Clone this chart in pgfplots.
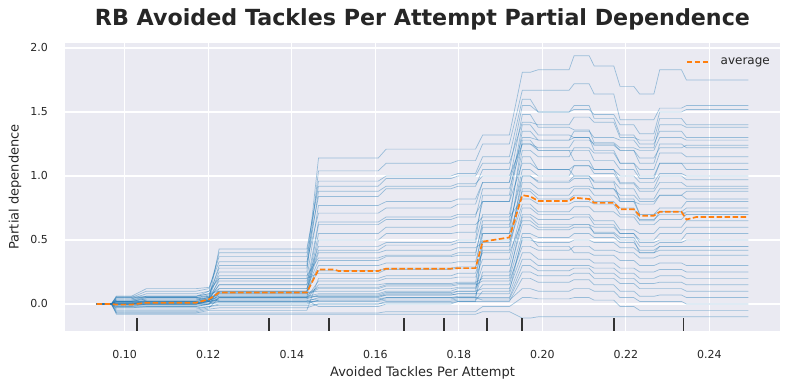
\documentclass[border=0pt]{standalone}
\usepackage{fontspec}
\setmainfont{DejaVu Sans}
\usepackage{pgfplots}
\usepackage{pgfplotstable}
\pgfplotsset{compat=1.18}

\definecolor{bg}{HTML}{EAEAF2}
\definecolor{tabblue}{HTML}{1F77B4}
\definecolor{taborange}{HTML}{FF7F0E}
\definecolor{txt}{HTML}{262626}
\definecolor{rug}{HTML}{333333}

% ICE curves: one column per individual line
\pgfplotstableread{
x l1 l2 l3 l4 l5 l6 l7 l8 l9 l10 l11 l12 l13 l14 l15 l16 l17 l18 l19 l20 l21 l22 l23 l24 l25 l26 l27 l28 l29 l30 l31 l32 l33 l34 l35 l36 l37 l38 l39 l40
0.0933 0 0 0 0 0 0 0 0 0 0  0 0 0 0 0 0 0 0 0 0  0 0 0 0 0 0 0 0 0 0  0 0 0 0 0 0 0 0 0 0
0.0968 0 0 0 0 0 0 0 0 0 0  0 0 0 0 0 0 0 0 0 0  0 0 0 0 0 0 0 0 0 0  0 0 0 0 0 0 0 0 0 0
0.0980 0.03 0.02 0.00 0.05 -0.02 0.06 0.00 -0.05 0.02 0.00  0.04 -0.03 0.00 0.01 -0.07 0.03 0.00 0.05 -0.02 0.02  0.00 -0.04 0.01 0.00 0.03 -0.06 0.00 0.02 -0.01 0.00  -0.03 0.01 -0.07 -0.08 0.06 0.02 0.00 0.01 0.04 -0.01
0.1016 0.03 0.02 0.00 0.05 -0.02 0.06 0.00 -0.05 0.02 0.00  0.04 -0.03 0.00 0.01 -0.07 0.03 0.00 0.05 -0.02 0.02  0.00 -0.04 0.01 0.00 0.03 -0.06 0.00 0.02 -0.01 0.00  -0.03 0.01 -0.07 -0.08 0.06 0.02 0.00 0.01 0.04 -0.01
0.1052 0.05 0.04 0.03 0.10 0.00 0.12 0.00 -0.05 0.02 0.00  0.08 -0.02 0.02 0.01 -0.07 0.06 0.00 0.05 -0.02 0.04  0.01 -0.04 0.01 0.00 0.03 -0.06 0.00 0.02 -0.01 0.00  -0.03 0.01 -0.07 -0.08 0.06 0.05 0.02 0.03 0.06 0.00
0.1171 0.05 0.04 0.03 0.10 0.00 0.12 0.00 -0.05 0.02 0.00  0.08 -0.02 0.02 0.01 -0.07 0.06 0.00 0.05 -0.02 0.04  0.01 -0.04 0.01 0.00 0.03 -0.06 0.00 0.02 -0.01 0.00  -0.03 0.01 -0.07 -0.08 0.06 0.05 0.02 0.03 0.06 0.00
0.1202 0.06 0.05 0.04 0.12 0.02 0.13 0.03 -0.03 0.04 0.00  0.10 0.00 0.03 0.02 -0.05 0.08 0.03 0.06 0.00 0.05  0.03 -0.02 0.02 0.00 0.05 -0.04 0.02 0.03 0.00 0.01  -0.02 0.02 -0.07 -0.08 0.10 0.07 0.04 0.05 0.08 0.02
0.1226 0.30 0.25 0.43 0.37 0.20 0.33 0.10 0.05 0.15 0.12  0.20 0.08 0.06 0.03 -0.05 0.10 0.08 0.12 0.05 0.09  0.06 0.00 0.04 0.02 0.07 -0.03 0.04 0.05 0.01 0.02  -0.01 0.03 -0.07 -0.08 0.40 0.28 0.15 0.18 0.22 0.10
0.1436 0.30 0.25 0.43 0.37 0.20 0.33 0.10 0.05 0.15 0.12  0.20 0.08 0.06 0.03 -0.05 0.10 0.08 0.12 0.05 0.09  0.06 0.00 0.04 0.02 0.07 -0.03 0.04 0.05 0.01 0.02  -0.01 0.03 -0.07 -0.08 0.40 0.28 0.15 0.18 0.22 0.10
0.1464 1.14 1.04 0.92 0.84 0.77 0.71 0.62 0.50 0.42 0.34  0.24 0.13 0.06 -0.02 0.20 0.30 0.55 0.40 0.18 0.10  0.08 0.03 0.15 0.05 0.12 0.00 0.07 0.06 0.03 0.02  0.00 0.04 -0.07 -0.08 0.96 0.88 0.64 0.45 0.36 0.26
0.1607 1.14 1.04 0.92 0.84 0.77 0.71 0.62 0.50 0.42 0.34  0.24 0.13 0.06 -0.02 0.20 0.30 0.55 0.40 0.18 0.10  0.08 0.03 0.15 0.05 0.12 0.00 0.07 0.06 0.03 0.02  0.00 0.04 -0.07 -0.08 0.96 0.88 0.64 0.45 0.36 0.26
0.1626 1.21 1.10 0.98 0.90 0.80 0.75 0.66 0.55 0.46 0.37  0.27 0.15 0.08 0.00 0.22 0.32 0.60 0.42 0.20 0.12  0.10 0.05 0.16 0.07 0.14 0.02 0.09 0.07 0.04 0.03  0.01 0.05 -0.06 -0.08 1.00 0.92 0.68 0.48 0.38 0.28
0.1781 1.21 1.10 0.98 0.90 0.80 0.75 0.66 0.55 0.46 0.37  0.27 0.15 0.08 0.00 0.22 0.32 0.60 0.42 0.20 0.12  0.10 0.05 0.16 0.07 0.14 0.02 0.09 0.07 0.04 0.03  0.01 0.05 -0.06 -0.08 1.00 0.92 0.68 0.48 0.38 0.28
0.1798 1.21 1.12 1.00 0.92 0.82 0.78 0.68 0.56 0.48 0.38  0.28 0.16 0.10 0.02 0.24 0.33 0.62 0.44 0.21 0.13  0.12 0.06 0.17 0.08 0.15 0.03 0.10 0.08 0.05 0.04  0.02 0.05 -0.06 -0.08 1.02 0.94 0.70 0.50 0.40 0.29
0.1840 1.21 1.12 1.00 0.92 0.82 0.78 0.68 0.56 0.48 0.38  0.28 0.16 0.10 0.02 0.24 0.33 0.62 0.44 0.21 0.13  0.12 0.06 0.17 0.08 0.15 0.03 0.10 0.08 0.05 0.04  0.02 0.05 -0.06 -0.08 1.02 0.94 0.70 0.50 0.40 0.29
0.1857 1.32 1.25 1.10 1.05 0.95 0.95 0.90 0.80 0.70 0.65  0.60 0.55 0.45 0.50 0.42 0.55 0.68 0.48 0.35 0.30  0.22 0.25 0.20 0.15 0.18 0.10 0.12 0.08 0.05 0.04  0.02 0.03 -0.02 -0.06 1.15 1.00 0.80 0.85 0.62 0.40
0.1921 1.32 1.25 1.10 1.05 0.95 0.95 0.90 0.80 0.70 0.65  0.60 0.55 0.45 0.50 0.42 0.55 0.68 0.48 0.35 0.30  0.22 0.25 0.20 0.15 0.18 0.10 0.12 0.08 0.05 0.04  0.02 0.03 -0.02 -0.06 1.15 1.00 0.80 0.85 0.62 0.40
0.1952 1.81 1.67 1.42 1.55 1.30 1.48 1.25 1.35 1.20 1.28  1.05 1.15 1.00 0.95 0.90 0.88 0.82 0.78 0.75 0.70  0.68 0.62 0.55 0.50 0.45 0.52 0.40 0.35 0.30 0.25  0.20 0.12 0.05 -0.11 1.60 1.25 1.10 1.40 1.00 0.65
0.1971 1.81 1.67 1.42 1.55 1.30 1.48 1.25 1.35 1.20 1.28  1.05 1.15 1.00 0.95 0.90 0.88 0.82 0.78 0.75 0.70  0.68 0.62 0.55 0.50 0.45 0.52 0.40 0.35 0.30 0.25  0.20 0.12 0.05 -0.11 1.60 1.25 1.10 1.40 1.00 0.65
0.1990 1.83 1.67 1.40 1.50 1.28 1.38 1.22 1.28 1.15 1.20  1.00 1.05 0.96 0.90 0.85 0.82 0.78 0.72 0.70 0.66  0.62 0.58 0.52 0.48 0.42 0.45 0.35 0.30 0.26 0.22  0.17 0.10 0.04 -0.10 1.50 1.20 1.05 1.32 0.95 0.60
0.2064 1.83 1.67 1.40 1.50 1.28 1.38 1.22 1.28 1.15 1.20  1.00 1.05 0.96 0.90 0.85 0.82 0.78 0.72 0.70 0.66  0.62 0.58 0.52 0.48 0.42 0.45 0.35 0.30 0.26 0.22  0.17 0.10 0.04 -0.10 1.50 1.20 1.05 1.32 0.95 0.60
0.2076 1.94 1.72 1.46 1.52 1.35 1.36 1.28 1.30 1.22 1.20  1.08 1.08 1.00 0.92 0.90 0.85 0.80 0.76 0.70 0.68  0.62 0.60 0.55 0.50 0.45 0.40 0.35 0.30 0.28 0.24  0.19 0.12 0.05 -0.10 1.55 1.12 1.00 1.30 0.98 0.62
0.2112 1.94 1.72 1.46 1.52 1.35 1.36 1.28 1.30 1.22 1.20  1.08 1.08 1.00 0.92 0.90 0.85 0.80 0.76 0.70 0.68  0.62 0.60 0.55 0.50 0.45 0.40 0.35 0.30 0.28 0.24  0.19 0.12 0.05 -0.10 1.55 1.12 1.00 1.30 0.98 0.62
0.2124 1.86 1.64 1.42 1.48 1.30 1.26 1.25 1.24 1.18 1.12  1.05 1.02 0.96 0.90 0.85 0.80 0.78 0.72 0.65 0.62  0.60 0.56 0.52 0.48 0.42 0.38 0.32 0.28 0.24 0.20  0.15 0.10 0.03 -0.10 1.45 1.05 0.95 1.20 0.90 0.55
0.2171 1.86 1.64 1.42 1.48 1.30 1.26 1.25 1.24 1.18 1.12  1.05 1.02 0.96 0.90 0.85 0.80 0.78 0.72 0.65 0.62  0.60 0.56 0.52 0.48 0.42 0.38 0.32 0.28 0.24 0.20  0.15 0.10 0.03 -0.10 1.45 1.05 0.95 1.20 0.90 0.55
0.2186 1.70 1.44 1.30 1.40 1.28 1.22 1.20 1.20 1.10 1.05  1.00 0.94 0.90 0.85 0.80 0.75 0.70 0.68 0.58 0.55  0.55 0.52 0.48 0.44 0.40 0.34 0.28 0.24 0.20 0.16  0.10 0.05 -0.02 -0.10 1.32 0.95 0.80 1.10 0.82 0.50
0.2219 1.70 1.44 1.30 1.40 1.28 1.22 1.20 1.20 1.10 1.05  1.00 0.94 0.90 0.85 0.80 0.75 0.70 0.68 0.58 0.55  0.55 0.52 0.48 0.44 0.40 0.34 0.28 0.24 0.20 0.16  0.10 0.05 -0.02 -0.10 1.32 0.95 0.80 1.10 0.82 0.50
0.2233 1.64 1.44 1.28 1.33 1.22 1.20 1.10 1.14 1.05 0.98  0.95 0.88 0.82 0.80 0.70 0.65 0.66 0.62 0.55 0.50  0.48 0.45 0.42 0.40 0.36 0.30 0.25 0.20 0.16 0.12  0.06 0.02 -0.05 -0.10 1.25 0.90 0.78 1.00 0.70 0.40
0.2267 1.64 1.44 1.28 1.33 1.22 1.20 1.10 1.14 1.05 0.98  0.95 0.88 0.82 0.80 0.70 0.65 0.66 0.62 0.55 0.50  0.48 0.45 0.42 0.40 0.36 0.30 0.25 0.20 0.16 0.12  0.06 0.02 -0.05 -0.10 1.25 0.90 0.78 1.00 0.70 0.40
0.2281 1.83 1.53 1.45 1.50 1.40 1.30 1.25 1.22 1.18 1.10  1.02 0.95 0.90 0.85 0.75 0.72 0.70 0.66 0.60 0.55  0.50 0.48 0.45 0.42 0.38 0.32 0.27 0.22 0.17 0.12  0.07 0.02 -0.05 -0.10 1.35 1.00 0.85 1.10 0.72 0.45
0.2333 1.83 1.53 1.45 1.50 1.40 1.30 1.25 1.22 1.18 1.10  1.02 0.95 0.90 0.85 0.75 0.72 0.70 0.66 0.60 0.55  0.50 0.48 0.45 0.42 0.38 0.32 0.27 0.22 0.17 0.12  0.07 0.02 -0.05 -0.10 1.35 1.00 0.85 1.10 0.72 0.45
0.2345 1.75 1.55 1.40 1.52 1.38 1.28 1.22 1.24 1.15 1.05  1.00 0.92 0.90 0.88 0.80 0.75 0.72 0.70 0.65 0.60  0.55 0.50 0.45 0.42 0.38 0.30 0.25 0.20 0.15 0.10  0.05 0.00 -0.05 -0.10 1.30 0.97 0.82 1.10 0.70 0.45
0.2493 1.75 1.55 1.40 1.52 1.38 1.28 1.22 1.24 1.15 1.05  1.00 0.92 0.90 0.88 0.80 0.75 0.72 0.70 0.65 0.60  0.55 0.50 0.45 0.42 0.38 0.30 0.25 0.20 0.15 0.10  0.05 0.00 -0.05 -0.10 1.30 0.97 0.82 1.10 0.70 0.45
}\ice

\begin{document}
\begin{tikzpicture}
\begin{axis}[
  name=ax,
  scale only axis,
  width=715pt, height=288pt,
  xmin=0.0857, xmax=0.2569,
  ymin=-0.211, ymax=2.039,
  axis background/.style={fill=bg},
  axis line style={draw=none},
  tick style={draw=none},
  grid=major,
  major grid style={draw=white, line width=1.1pt},
  xtick={0.10,0.12,0.14,0.16,0.18,0.20,0.22,0.24},
  ytick={0,0.5,1,1.5,2},
  scaled x ticks=false, scaled y ticks=false,
  /pgf/number format/assume math mode=true,
  x tick label style={/pgf/number format/fixed, /pgf/number format/fixed zerofill, /pgf/number format/precision=2},
  y tick label style={/pgf/number format/fixed, /pgf/number format/fixed zerofill, /pgf/number format/precision=1},
  ticklabel style={font=\fontsize{11}{13}\selectfont, text=txt},
  xticklabel style={yshift=-15.5pt},
  yticklabel style={xshift=-13.5pt},
  xlabel={Avoided Tackles Per Attempt},
  xlabel style={at={(axis description cs:0.5,-0.1458)}, anchor=center, font=\fontsize{13}{15}\selectfont, text=txt},
  ylabel={Partial dependence},
  ylabel style={at={(axis description cs:-0.0699,0.5)}, anchor=center, font=\fontsize{13}{15}\selectfont, text=txt},
  every axis title shift=0pt,
  title={RB Avoided Tackles Per Attempt Partial Dependence},
  title style={at={(axis description cs:0.5,1.0833)}, anchor=center, font=\fontsize{22.2}{26}\selectfont\bfseries, text=txt},
  legend style={draw=none, fill=none, at={(axis description cs:1,1)}, anchor=north east, xshift=-5pt, yshift=-11pt, font=\fontsize{12}{13.5}\selectfont, text=txt},
  legend image code/.code={\draw[#1] (0pt,0pt) -- (23pt,0pt); \path (31pt,0pt);},
]
\pgfplotsinvokeforeach{1,...,40}{
  \addplot[tabblue, opacity=0.4, line width=0.7pt, forget plot] table[x=x, y=l#1] {\ice};
}
\addplot[taborange, line width=1.7pt, dash pattern=on 5.5pt off 2.5pt] coordinates {
(0.0933,0) (0.0968,0.0) (0.0980,-0.005) (0.1016,-0.005) (0.1052,0.01) (0.1171,0.01)
(0.1202,0.037) (0.1226,0.09) (0.1436,0.09) (0.1464,0.27) (0.1500,0.27) (0.1512,0.258)
(0.1607,0.258) (0.1626,0.276) (0.1781,0.276) (0.1798,0.28) (0.1840,0.28) (0.1857,0.487)
(0.1921,0.52) (0.1952,0.85) (0.1971,0.84) (0.1990,0.805) (0.2064,0.805) (0.2076,0.83)
(0.2112,0.82) (0.2124,0.79) (0.2171,0.79) (0.2186,0.74) (0.2219,0.74) (0.2233,0.69)
(0.2267,0.69) (0.2281,0.72) (0.2333,0.72) (0.2345,0.66) (0.2369,0.68) (0.2493,0.68)
};
\addlegendentry{average}
\pgfplotsinvokeforeach{0.1029,0.1345,0.1490,0.1669,0.1764,0.1867,0.1952,0.2171,0.2338}{
  \addplot[rug, line width=1.8pt, forget plot] coordinates {(#1,-0.211) (#1,-0.109)};
}
\end{axis}
\pgfresetboundingbox
\path ([xshift=-65pt,yshift=-59pt]ax.south west) rectangle ([xshift=11pt,yshift=43pt]ax.north east);
\end{tikzpicture}
\end{document}
